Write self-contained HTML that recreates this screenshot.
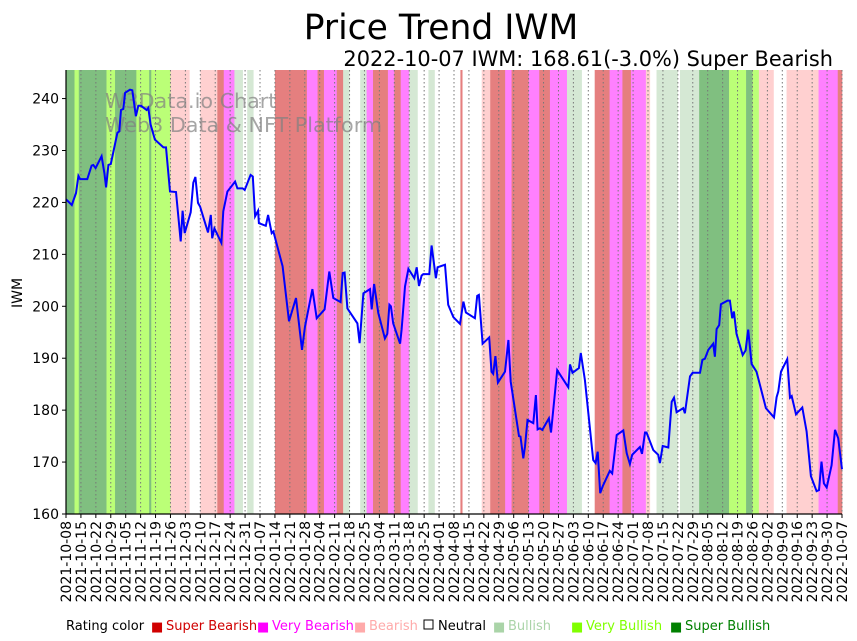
<!DOCTYPE html>
<html><head><meta charset="utf-8"><style>
html,body{margin:0;padding:0;background:#fff;}
svg{display:block;font-family:"DejaVu Sans","Liberation Sans",sans-serif;}
</style></head><body>
<svg id="chart" width="857" height="641" viewBox="0 0 857 641" xmlns="http://www.w3.org/2000/svg">
<text x="441" y="39" font-size="34.5" text-anchor="middle">Price Trend IWM</text>
<text x="833" y="66" font-size="20.9" text-anchor="end">2022-10-07 IWM: 168.61(-3.0%) Super Bearish</text>
<g id="bands"></g>
<g id="grid"></g>
<text x="105" y="108" font-size="20.7" fill="#808080" fill-opacity="0.7">W3Data.io Chart</text>
<text x="105" y="132" font-size="20.7" fill="#808080" fill-opacity="0.7">Web3 Data &amp; NFT Platform</text>
<path id="line" fill="none" stroke="#0000ff" stroke-width="2"/>
<g id="axes"></g>
<text transform="translate(22,293) rotate(-90)" font-size="14" text-anchor="middle">IWM</text>
<g id="legend" font-size="13"></g>
</svg>
<script>
const bandStarts=[0,4,6,19,23,33,39,40,49,58,63,71,74,79,83,85,88,98,113,118,121,127,130,133,138,141,144,151,154,157,161,165,170,173,185,186,195,199,206,209,217,222,227,235,242,248,255,261,265,272,274,277,287,288,297,311,319,322,325,332,338,353,362];
const bandEnds=[4,6,19,23,33,39,40,49,58,63,71,74,79,83,85,88,98,113,118,121,127,130,133,138,141,144,151,154,157,161,165,170,173,185,186,195,199,206,209,217,222,227,235,242,248,255,261,265,272,274,277,287,288,297,311,319,322,325,332,338,353,362,364];
const bandRatings=["SB+","VB+","SB+","VB+","SB+","VB+","SB+","VB+","B-","N","B-","SB-","VB-","B+","N","B+","N","SB-","VB-","SB-","VB-","SB-","B+","N","B+","VB-","SB-","VB-","SB-","VB-","B+","N","B+","N","SB-","N","B-","SB-","VB-","SB-","VB-","SB-","VB-","B+","N","SB-","VB-","SB-","VB-","B-","N","B+","N","B+","SB+","VB+","SB+","VB+","B-","N","B-","VB-","SB-"];
const priceDays=[0,2.7,4.7,5.8,6.6,10,12,12.8,13.9,16.7,18,18.8,19.9,21,24.1,25,25.8,26.9,27.7,30,31.1,32.8,33.9,35.2,37.8,38.6,39.7,41.7,45.7,46.9,48.8,51.6,53.8,54.7,55.7,58.5,59.7,60.7,61.9,62.9,66.6,67.9,68.6,69.6,72.9,73.8,75.7,79.3,80.4,82.9,83.8,86.6,87.6,88.7,90.1,90.5,93.7,94.8,96.5,97.3,101.6,104.6,107.9,110.7,112.1,115.6,117.6,121.3,123.5,125.4,128.8,129.8,130.7,132,136.7,137.7,139.5,142.6,143.4,144.5,146.5,149.6,150.7,151.7,152.4,153.5,156.7,157.4,159,160.6,163.4,164.5,165.6,166.8,167.6,170.4,171.5,173.5,174.3,177.8,179.3,181.7,184.8,186.4,187.6,191.8,192.9,193.7,195.4,198.5,199.6,200.4,201.4,202.6,205.9,207.5,208.6,212.5,213.2,214.5,215.3,216.5,219.2,220.4,221.2,222.3,223.4,226.5,227.5,230.4,235.6,236.4,237.6,240.6,241.5,243.4,247.3,248.4,249.4,250.6,251.7,255.1,256.2,258.3,261.4,263,264.5,265.6,269.2,270.2,271.6,272.3,275.5,277.8,278.6,279.9,282.5,284.1,285.2,286.4,289.5,290.3,292.7,293.9,297.4,298.5,299.7,301.3,303.6,304.4,305.2,306.4,307.2,310.3,311.4,312.5,313.3,314.5,317.4,318.8,320,321.6,323.9,325.5,328.3,332.1,333.3,334.1,335.4,338.3,339.6,340.4,342.4,345.4,347.4,349.4,352.1,353.2,354.4,355.5,356.8,359.1,360.7,362.2,364];
const priceValues=[220.6,219.5,221.8,225.1,224.5,224.5,227.1,227.2,226.6,228.9,225.6,222.9,227.2,227.4,233.4,233.7,237.8,238,241.1,241.7,241.6,236.6,238.6,238.6,237.8,238.2,235,232.1,230.6,230.6,222.1,222,212.5,218.4,214.1,218.1,223.8,224.9,219.9,219.2,214.2,217.6,213.1,215,212.2,218.3,222.1,224,222.7,222.7,222.4,225.3,225,217.3,218.4,216,215.5,217.6,214.1,214.4,207.7,197.1,201.6,191.6,196.1,203.3,197.7,199.4,206.7,201.6,200.8,206.4,206.5,199.6,196.7,192.9,202.5,203.3,199.4,204.3,198.7,193.8,194.7,200.3,200,196.7,192.8,195.5,203.8,207.2,205.4,207.5,203.9,205.9,206.2,206.2,211.7,205.4,207.5,208,200.3,197.9,196.6,200.9,198.8,197.7,202,202.2,192.8,194,187.4,187,190.4,185.3,187.4,193.5,185.5,175,174.9,170.7,173,178.1,177.5,182.9,176.3,176.5,176.2,178.4,175.7,187.7,184.4,188.8,187.2,188.1,191,185.8,170.4,169.8,172,164,165.3,168.3,167.8,175.2,176.1,171.7,169.6,171.4,172.9,171.6,175.7,175.7,172.3,171.4,169.8,173.1,172.8,181.6,182.4,179.6,180.4,179.4,186.5,187.2,187.2,189.7,189.9,191.6,192.8,190.3,195.6,196.4,200.4,201.1,201.1,197.7,199,194.7,190.6,191.5,195.5,188.9,187.4,184.9,180.4,178.6,182.5,183.6,187.4,189.8,182.4,182.7,179.2,180.5,175.9,167.3,164.4,164.6,170.1,165.9,165.1,169.4,176.2,174.6,168.61];
const yTicks=[160,170,180,190,200,210,220,230,240];
const xTickLabels=["2021-10-08","2021-10-15","2021-10-22","2021-10-29","2021-11-05","2021-11-12","2021-11-19","2021-11-26","2021-12-03","2021-12-10","2021-12-17","2021-12-24","2021-12-31","2022-01-07","2022-01-14","2022-01-21","2022-01-28","2022-02-04","2022-02-11","2022-02-18","2022-02-25","2022-03-04","2022-03-11","2022-03-18","2022-03-25","2022-04-01","2022-04-08","2022-04-15","2022-04-22","2022-04-29","2022-05-06","2022-05-13","2022-05-20","2022-05-27","2022-06-03","2022-06-10","2022-06-17","2022-06-24","2022-07-01","2022-07-08","2022-07-15","2022-07-22","2022-07-29","2022-08-05","2022-08-12","2022-08-19","2022-08-26","2022-09-02","2022-09-09","2022-09-16","2022-09-23","2022-09-30","2022-10-07"];
const legendLabels=["Super Bearish","Very Bearish","Bearish","Neutral","Bullish","Very Bullish","Super Bullish"];

const NS="http://www.w3.org/2000/svg";
const L=66,R=842,T=70,B=514,YMIN=160,YMAX=245.5,DMAX=364;
const x=d=>L+d*(R-L)/DMAX;
const y=v=>B-(v-YMIN)*(B-T)/(YMAX-YMIN);
const bandColor={"SB-":"#e57f7f","VB-":"#ff80ff","B-":"#ffd0d0","N":"#ffffff","B+":"#d5e8d4","VB+":"#bbff77","SB+":"#80bf80"};
function mk(tag,attrs,parent){const e=document.createElementNS(NS,tag);for(const k in attrs)e.setAttribute(k,attrs[k]);parent.appendChild(e);return e;}
const gb=document.getElementById('bands');
for(let i=0;i<bandStarts.length;i++){
  const r=mk('rect',{x:x(bandStarts[i]),y:T,width:Math.max(0,x(bandEnds[i])-x(bandStarts[i])+0.3),height:B-T,fill:bandColor[bandRatings[i]]},gb);
  
  
}
const gg=document.getElementById('grid'),ga=document.getElementById('axes');
xTickLabels.forEach((lab,i)=>{
  const px=x(i*7);
  const gl=mk('line',{x1:px,x2:px,y1:T,y2:B,stroke:'#777','stroke-width':1,'stroke-dasharray':'1.5,2.5'},gg);
  
  
  mk('line',{x1:px,x2:px,y1:B,y2:B+4,stroke:'#000'},ga);
  const t=mk('text',{transform:`translate(${px+5},${B+7}) rotate(-90)`,'font-size':14,'text-anchor':'end'},ga);
  t.textContent=lab;
  
  
});
yTicks.forEach(v=>{
  const py=y(v);
  mk('line',{x1:L-4,x2:L,y1:py,y2:py,stroke:'#000'},ga);
  const t=mk('text',{x:L-7,y:py+5,'font-size':14,'text-anchor':'end'},ga);
  t.textContent=v;
  
  
});
mk('line',{x1:L,x2:L,y1:T,y2:B,stroke:'#000','stroke-width':1.2},ga);
mk('line',{x1:L,x2:R,y1:B,y2:B,stroke:'#000','stroke-width':1.2},ga);
document.getElementById('line').setAttribute('d',priceDays.map((d,i)=>(i?'L':'M')+x(d).toFixed(1)+','+y(priceValues[i]).toFixed(1)).join(''));
const lg=document.getElementById('legend');
const lcol=["#d00000","#ff00ff","#ffaaaa","#000000","#aad4a8","#80ff00","#008000"];
const lx=[151,257,354,423,493,571,670];
const t0=mk('text',{x:66,y:630},lg);t0.textContent="Rating color";


legendLabels.forEach((lab,i)=>{
  if(i===3){mk('rect',{x:lx[i]+1,y:620,width:9,height:9,fill:'#fff',stroke:'#000'},lg);}
  else{const sq=mk('text',{x:lx[i],y:631,fill:lcol[i]},lg);sq.textContent="■";}
  const t=mk('text',{x:lx[i]+15,y:630,fill:i===3?'#000':lcol[i]},lg);
  t.textContent=lab;
  
  
});
</script>
</body></html>
